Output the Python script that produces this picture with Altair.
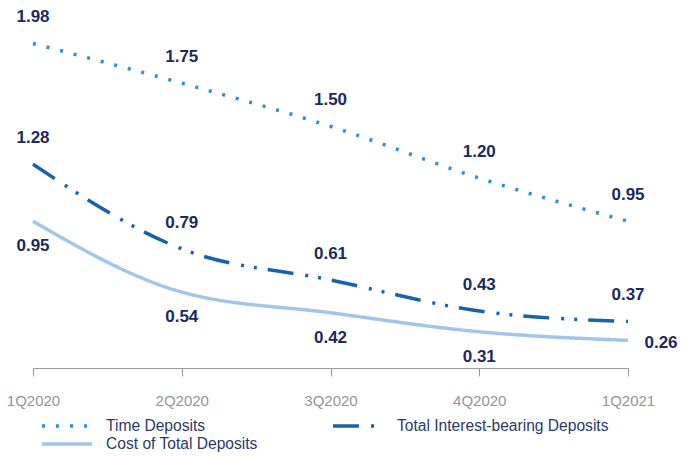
import altair as alt
import pandas as pd

quarters = ["1Q2020", "2Q2020", "3Q2020", "4Q2020", "1Q2021"]
time_deposits = [1.98, 1.75, 1.50, 1.20, 0.95]
interest_bearing = [1.28, 0.79, 0.61, 0.43, 0.37]
cost_total = [0.95, 0.54, 0.42, 0.31, 0.26]

series_names = [
    "Time Deposits",
    "Total Interest-bearing Deposits",
    "Cost of Total Deposits",
]

rows = []
for name, values in zip(series_names, [time_deposits, interest_bearing, cost_total]):
    for q, v in zip(quarters, values):
        rows.append({"quarter": q, "series": name, "rate": v})
df = pd.DataFrame(rows)

FONT = "Liberation Sans"
NAVY = "#1c2a5c"

x_enc = alt.X(
    "quarter:N",
    sort=quarters,
    scale=alt.Scale(type="point", padding=0),
    axis=alt.Axis(
        title=None,
        domainColor="#9a9a9a",
        tickColor="#9a9a9a",
        tickSize=8,
        labelColor="#949494",
        labelFontSize=15,
        labelFont=FONT,
        labelFontWeight="normal",
        labelPadding=17,
        labelAngle=0,
        grid=False,
    ),
)
y_enc = alt.Y(
    "rate:Q",
    scale=alt.Scale(domain=[0.1, 2.0], zero=False, nice=False),
    axis=None,
)

lines = (
    alt.Chart(df)
    .mark_line(interpolate="monotone")
    .encode(
        x=x_enc,
        y=y_enc,
        color=alt.Color(
            "series:N",
            scale=alt.Scale(domain=series_names, range=["#2f8dd6", "#1762ae", "#a1c6e9"]),
            legend=alt.Legend(
                title=None,
                orient="none",
                direction="horizontal",
                legendX=7,
                legendY=377,
                columns=2,
                columnPadding=73,
                rowPadding=0,
                padding=0,
                symbolType="stroke",
                symbolSize=2500,
                clipHeight=18,
                labelFontSize=15.6,
                labelFont=FONT,
                labelColor="#2b3a67",
                labelOffset=12,
                labelLimit=400,
            ),
        ),
        strokeDash=alt.StrokeDash(
            "series:N",
            scale=alt.Scale(
                domain=series_names,
                range=[[3, 11], [26, 12, 3, 10, 3, 11], [1, 0]],
            ),
            legend=None,
        ),
        strokeWidth=alt.StrokeWidth(
            "series:N",
            scale=alt.Scale(domain=series_names, range=[3.5, 3.5, 5.5]),
            legend=None,
        ),
    )
)

label_base = alt.Chart(df).encode(
    x=alt.X("quarter:N", sort=quarters),
    y=alt.Y("rate:Q"),
    text=alt.Text("rate:Q", format=".2f"),
)

labels_above = label_base.mark_text(
    font=FONT, fontSize=17, fontWeight="bold", color=NAVY, dy=-26
).transform_filter(
    alt.FieldOneOfPredicate(field="series", oneOf=series_names[:2])
)

labels_below = label_base.mark_text(
    font=FONT, fontSize=17, fontWeight="bold", color=NAVY, dy=25
).transform_filter(
    (alt.datum.series == series_names[2]) & (alt.datum.quarter != quarters[-1])
)

labels_right = label_base.mark_text(
    font=FONT, fontSize=17, fontWeight="bold", color=NAVY, dx=33, dy=3
).transform_filter(
    (alt.datum.series == series_names[2]) & (alt.datum.quarter == quarters[-1])
)

chart = (
    alt.layer(lines, labels_above, labels_below, labels_right)
    .properties(
        width=595,
        height=328,
        padding={"left": 33, "top": 40, "right": 53, "bottom": 88},
        autosize="none",
        background="white",
    )
    .configure_view(stroke=None)
)

chart.save("out.html", embed_options={"renderer": "svg", "actions": False})
